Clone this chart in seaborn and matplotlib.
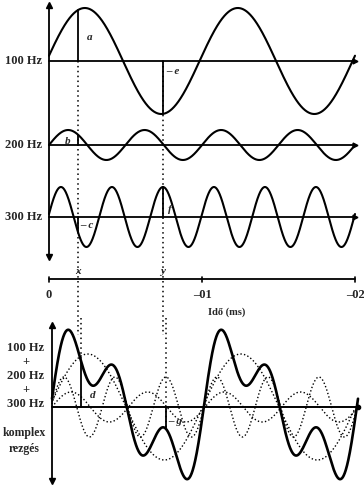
import numpy as np
import pandas as pd
import matplotlib
matplotlib.use("Agg")
import matplotlib.pyplot as plt
import seaborn as sns

# ---- data -------------------------------------------------------------
freqs = [100, 200, 300]                       # Hz
freq_labels = ["100 Hz", "200 Hz", "300 Hz"]
amplitudes = [53, 15, 30]                     # relative amplitude (drawing units)
phases = [0.1, 0.0, 0.1]                      # rad
t_end = 0.02                                  # s
tick_values = [0.0, 0.01, 0.02]
tick_labels = ["0", "–01", "–02"]
marker_times = [0.0019, 0.00745]              # instants x and y
marker_names = ["x", "y"]
axis_title = "Idő (ms)"
sum_label_lines = ["100 Hz", "+", "200 Hz", "+", "300 Hz"]
sum_name_lines = ["komplex", "rezgés"]

# ---- layout -------------------------------------------------------------
W, H = 364, 486
sns.set_style("white")
plt.rcParams["font.family"] = ["Liberation Serif", "DejaVu Serif"]
fig = plt.figure(figsize=(W / 100, H / 100), dpi=100)
fig.patch.set_facecolor("white")

SCALE = 15300.0  # px per second
top_x0, bot_x0 = 49, 52
ax_top = fig.add_axes([0, (H - 335) / H, 1, 335 / H])
ax_top.set_xlim(-top_x0 / SCALE, (W - top_x0) / SCALE)
ax_top.set_ylim(335, 0)
ax_bot = fig.add_axes([0, 0, 1, 168 / H])
ax_bot.set_xlim(-bot_x0 / SCALE, (W - bot_x0) / SCALE)
ax_bot.set_ylim(486, 318)
for ax in (ax_top, ax_bot):
    ax.axis("off")
    ax.patch.set_alpha(0)

t = np.linspace(0, t_end, 1200)
def wave(i, tt):
    return amplitudes[i] * np.sin(2 * np.pi * freqs[i] * tt + phases[i])

top_bases = [61, 145, 217]
bot_base = 407
K = "black"

# ---- top: individual waves ----------------------------------------------
ax_top.plot([0, 0], [6, 256], color=K, lw=1.3)
ax_top.plot([0], [5], marker="^", color=K, ms=4)
ax_top.plot([0], [257], marker="v", color=K, ms=4)

for i, base in enumerate(top_bases):
    df = pd.DataFrame({"t": t, "y": base - wave(i, t)})
    sns.lineplot(data=df, x="t", y="y", ax=ax_top, color=K, lw=1.5,
                 estimator=None, sort=False)
    ax_top.plot([0, t_end], [base, base], color=K, lw=1.3)
    ax_top.plot([t_end], [base], marker=">", color=K, ms=3.5)
    fig.text(24 / W, 1 - base / H, freq_labels[i], ha="center", va="center",
             fontsize=9, fontweight="bold")

# dotted verticals through top panel
for mt in marker_times:
    ax_top.plot([mt, mt], [top_bases[0], 335], color=K, lw=1.1,
                linestyle=(0, (1, 2.2)))

# solid measurement segments
seg_spec = [(0, 0), (0, 1), (1, 0), (2, 0), (2, 1)]
for wi, mi in seg_spec:
    mt = marker_times[mi]
    ax_top.plot([mt, mt], [top_bases[wi], top_bases[wi] - wave(wi, mt)],
                color=K, lw=1.3)

italic_top = [("a", 87, 38), ("– e", 166, 71), ("b", 65, 142),
              ("– c", 80, 226), ("f", 168, 209)]
for s, x, y in italic_top:
    fig.text(x / W, 1 - y / H, s, ha="left", va="center", fontsize=8,
             style="italic", fontweight="bold")

# time axis
tl_y = 279
ax_top.plot([0, t_end], [tl_y, tl_y], color=K, lw=1.3)
for tv, tl in zip(tick_values, tick_labels):
    ax_top.plot([tv, tv], [tl_y - 2.5, tl_y + 2.5], color=K, lw=1.2)
    fig.text((top_x0 + tv * SCALE) / W, 1 - 295 / H, tl, ha="center",
             va="center", fontsize=9, fontweight="bold")
fig.text(227 / W, 1 - 312 / H, axis_title, ha="center", va="center",
         fontsize=7.5, fontweight="bold")
for mt, nm in zip(marker_times, marker_names):
    fig.text((top_x0 + mt * SCALE) / W, 1 - 271 / H, nm, ha="center",
             va="center", fontsize=8, style="italic", fontweight="bold")

# ---- bottom: complex vibration ------------------------------------------
ax_bot.plot([0, 0], [326, 479], color=K, lw=1.3)
ax_bot.plot([0], [325], marker="^", color=K, ms=4)
ax_bot.plot([0], [481], marker="v", color=K, ms=4)
ax_bot.plot([0, t_end], [bot_base, bot_base], color=K, lw=1.4)
ax_bot.plot([t_end], [bot_base], marker="o", color=K, ms=3)

for i in range(3):
    df = pd.DataFrame({"t": t, "y": bot_base - wave(i, t)})
    sns.lineplot(data=df, x="t", y="y", ax=ax_bot, color=K, lw=1.0,
                 linestyle=(0, (1, 1.6)), estimator=None, sort=False)

total = sum(wave(i, t) for i in range(3))
df_sum = pd.DataFrame({"t": t, "y": bot_base - total})
sns.lineplot(data=df_sum, x="t", y="y", ax=ax_bot, color=K, lw=1.9,
             estimator=None, sort=False)

for mt in marker_times:
    s_val = sum(wave(i, mt) for i in range(3))
    ax_bot.plot([mt, mt], [318, bot_base - s_val], color=K, lw=1.1,
                linestyle=(0, (1, 2.2)))
    ax_bot.plot([mt, mt], [bot_base, bot_base - s_val], color=K, lw=1.3)

for s, x, y in [("d", 90, 396), ("– g", 168, 421)]:
    fig.text(x / W, 1 - y / H, s, ha="left", va="center", fontsize=8,
             style="italic", fontweight="bold")

for k, line in enumerate(sum_label_lines):
    fig.text(26 / W, 1 - (348 + 14 * k) / H, line, ha="center", va="center",
             fontsize=9, fontweight="bold")
for k, line in enumerate(sum_name_lines):
    fig.text(24 / W, 1 - (433 + 16 * k) / H, line, ha="center", va="center",
             fontsize=8.5, fontweight="bold")

fig.savefig("out.png", dpi=100, facecolor="white")
